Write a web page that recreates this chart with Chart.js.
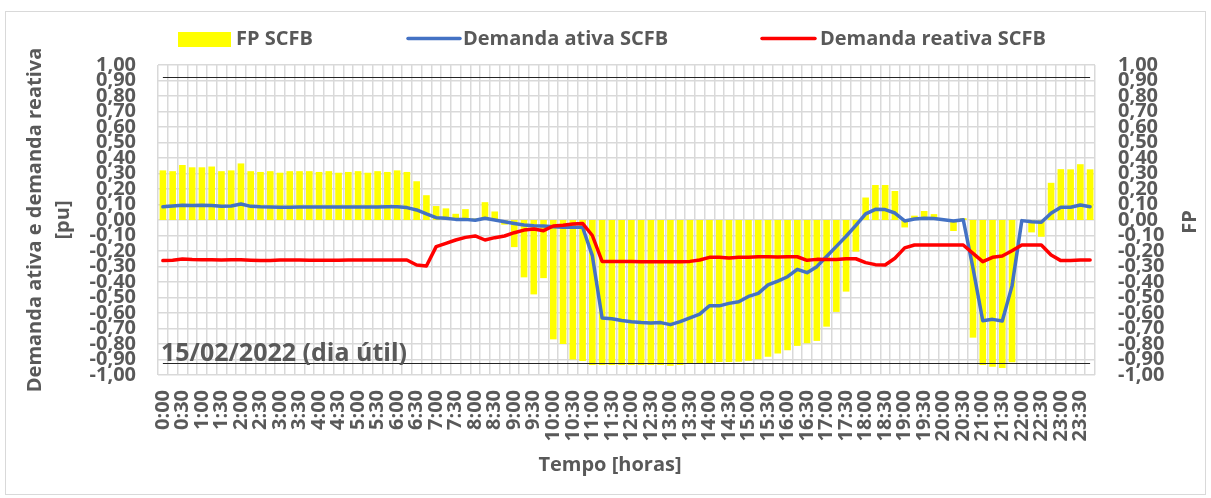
<!DOCTYPE html>
<html>
<head>
<meta charset="utf-8">
<script src="https://cdn.jsdelivr.net/npm/chart.js@4.4.1/dist/chart.umd.min.js"></script>
<style>
html,body{margin:0;padding:0;background:#ffffff;}
#wrap{width:1211px;height:498px;position:relative;}
</style>
</head>
<body>
<div id="wrap"><canvas id="c" width="1211" height="498"></canvas></div>
<script>
const categories = [
 "0:00","0:15","0:30","0:45","1:00","1:15","1:30","1:45","2:00","2:15","2:30","2:45",
 "3:00","3:15","3:30","3:45","4:00","4:15","4:30","4:45","5:00","5:15","5:30","5:45",
 "6:00","6:15","6:30","6:45","7:00","7:15","7:30","7:45","8:00","8:15","8:30","8:45",
 "9:00","9:15","9:30","9:45","10:00","10:15","10:30","10:45","11:00","11:15","11:30","11:45",
 "12:00","12:15","12:30","12:45","13:00","13:15","13:30","13:45","14:00","14:15","14:30","14:45",
 "15:00","15:15","15:30","15:45","16:00","16:15","16:30","16:45","17:00","17:15","17:30","17:45",
 "18:00","18:15","18:30","18:45","19:00","19:15","19:30","19:45","20:00","20:15","20:30","20:45",
 "21:00","21:15","21:30","21:45","22:00","22:15","22:30","22:45","23:00","23:15","23:30","23:45"
];

const fpSCFB = [
 0.32,0.315,0.355,0.34,0.34,0.345,0.315,0.32,0.365,0.315,
 0.31,0.315,0.305,0.315,0.315,0.315,0.31,0.315,0.305,0.31,
 0.315,0.305,0.315,0.31,0.32,0.31,0.25,0.16,0.09,0.075,
 0.04,0.07,0.01,0.115,0.055,-0.03,-0.175,-0.37,-0.48,-0.375,
 -0.77,-0.80,-0.90,-0.91,-0.935,-0.935,-0.935,-0.935,-0.935,-0.935,
 -0.935,-0.935,-0.94,-0.935,-0.927,-0.927,-0.922,-0.916,-0.916,-0.914,
 -0.908,-0.898,-0.882,-0.862,-0.84,-0.812,-0.795,-0.78,-0.688,-0.593,
 -0.462,-0.204,0.145,0.226,0.226,0.187,-0.048,0.028,0.058,0.038,
 0.0,-0.071,0.012,-0.759,-0.935,-0.946,-0.955,-0.918,0.0,-0.08,
 -0.108,0.24,0.328,0.327,0.36,0.327
];

const demandaAtiva = [
 0.085,0.09,0.095,0.093,0.095,0.093,0.088,0.09,0.103,0.088,
 0.085,0.084,0.083,0.083,0.084,0.084,0.084,0.084,0.084,0.084,
 0.084,0.084,0.084,0.085,0.086,0.08,0.065,0.039,0.015,0.011,
 0.004,0.004,-0.002,0.011,0.0,-0.011,-0.022,-0.032,-0.037,-0.039,
 -0.043,-0.047,-0.047,-0.047,-0.23,-0.632,-0.637,-0.648,-0.656,-0.662,
 -0.665,-0.662,-0.675,-0.656,-0.631,-0.607,-0.553,-0.554,-0.538,-0.527,
 -0.493,-0.473,-0.419,-0.394,-0.366,-0.318,-0.34,-0.301,-0.235,-0.17,
 -0.105,-0.035,0.04,0.069,0.067,0.045,-0.006,0.006,0.011,0.009,
 0.002,-0.006,0.002,-0.31,-0.65,-0.641,-0.652,-0.425,-0.004,-0.011,
 -0.015,0.043,0.082,0.082,0.097,0.086
];

const demandaReativa = [
 -0.262,-0.26,-0.252,-0.255,-0.256,-0.257,-0.258,-0.257,-0.256,-0.259,
 -0.262,-0.261,-0.258,-0.258,-0.258,-0.259,-0.26,-0.26,-0.259,-0.258,
 -0.258,-0.258,-0.258,-0.258,-0.258,-0.258,-0.29,-0.297,-0.172,-0.151,
 -0.129,-0.112,-0.103,-0.129,-0.114,-0.103,-0.082,-0.065,-0.058,-0.069,
 -0.039,-0.034,-0.026,-0.022,-0.1,-0.267,-0.267,-0.267,-0.268,-0.269,
 -0.269,-0.269,-0.269,-0.269,-0.267,-0.258,-0.241,-0.241,-0.245,-0.241,
 -0.241,-0.237,-0.237,-0.239,-0.237,-0.237,-0.26,-0.254,-0.255,-0.255,
 -0.25,-0.25,-0.275,-0.288,-0.29,-0.247,-0.18,-0.161,-0.161,-0.161,
 -0.161,-0.161,-0.161,-0.215,-0.269,-0.241,-0.232,-0.198,-0.161,-0.161,
 -0.161,-0.226,-0.262,-0.262,-0.258,-0.258
];

const yTickValues = [1,0.9,0.8,0.7,0.6,0.5,0.4,0.3,0.2,0.1,0,-0.1,-0.2,-0.3,-0.4,-0.5,-0.6,-0.7,-0.8,-0.9,-1];
const fpLimits = [0.92, -0.92];
const seriesLabels = ["FP SCFB", "Demanda ativa SCFB", "Demanda reativa SCFB"];
const leftAxisTitle = ["Demanda ativa e demanda reativa", "[pu]"];
const rightAxisTitle = "FP";
const xAxisTitle = "Tempo [horas]";
const annotationText = "15/02/2022 (dia útil)";

const TEXT = '#595959';
const GRID = '#d9d9d9';
const FONT = '"Open Sans", Lato, sans-serif';
const fmt = v => v.toFixed(2).replace('.', ',');

const decor = {
  id: 'decor',
  beforeDraw(chart) {
    const ctx = chart.ctx;
    ctx.save();
    ctx.fillStyle = '#ffffff';
    ctx.fillRect(0, 0, chart.width, chart.height);
    ctx.strokeStyle = '#d9d9d9';
    ctx.lineWidth = 1;
    ctx.strokeRect(5.5, 11.5, 1200, 483);
    ctx.restore();
  },
  afterDatasetsDraw(chart) {
    const ctx = chart.ctx;
    const y = chart.scales.y2;
    const meta = chart.getDatasetMeta(0);
    const x0 = meta.data[0].x, x1 = meta.data[meta.data.length - 1].x;
    ctx.save();
    ctx.strokeStyle = '#262626';
    ctx.lineWidth = 1;
    fpLimits.forEach(v => {
      const py = Math.round(y.getPixelForValue(v)) + 0.5;
      ctx.beginPath(); ctx.moveTo(x0, py); ctx.lineTo(x1, py); ctx.stroke();
    });
    ctx.restore();
  },
  afterDraw(chart) {
    const ctx = chart.ctx;
    const ds = chart.data.datasets;
    ctx.save();
    ctx.font = '700 20px ' + FONT;
    ctx.textBaseline = 'middle';
    ctx.textAlign = 'left';
    const ly = 39;
    ctx.fillStyle = ds[0].backgroundColor;
    ctx.fillRect(178, 32, 53, 15);
    ctx.fillStyle = TEXT;
    ctx.fillText(ds[0].label, 236, ly);
    [[1, 408, 460, 463], [2, 762, 815, 820]].forEach(([i, a, b, t]) => {
      ctx.strokeStyle = ds[i].borderColor;
      ctx.lineWidth = 3.5;
      ctx.lineCap = 'round';
      ctx.beginPath(); ctx.moveTo(a, 38.5); ctx.lineTo(b, 38.5); ctx.stroke();
      ctx.fillStyle = TEXT;
      ctx.fillText(ds[i].label, t, ly);
    });
    ctx.textAlign = 'center';
    ctx.fillText(xAxisTitle, 610, 465);
    ctx.save();
    ctx.translate(1190, 222);
    ctx.rotate(-Math.PI / 2);
    ctx.fillText(rightAxisTitle, 0, 0);
    ctx.restore();
    ctx.textAlign = 'left';
    ctx.textBaseline = 'alphabetic';
    ctx.font = '700 25px ' + FONT;
    ctx.fillText(annotationText, 161, 361);
    ctx.restore();
  }
};

const yTickOpts = {
  autoSkip: false,
  color: TEXT,
  font: { family: FONT, size: 20, weight: '700', lineHeight: 1 },
  callback: v => fmt(v)
};

new Chart(document.getElementById('c'), {
  data: {
    labels: categories,
    datasets: [
      { type: 'bar', label: seriesLabels[0], data: fpSCFB, yAxisID: 'y2',
        backgroundColor: '#FFFF00', borderWidth: 0, barPercentage: 0.68, categoryPercentage: 1, order: 3 },
      { type: 'line', label: seriesLabels[1], data: demandaAtiva, yAxisID: 'y',
        borderColor: '#4472C4', backgroundColor: '#4472C4', borderWidth: 3.5, pointRadius: 0,
        tension: 0, borderJoinStyle: 'round', borderCapStyle: 'round', order: 1 },
      { type: 'line', label: seriesLabels[2], data: demandaReativa, yAxisID: 'y',
        borderColor: '#FF0000', backgroundColor: '#FF0000', borderWidth: 3.5, pointRadius: 0,
        tension: 0, borderJoinStyle: 'round', borderCapStyle: 'round', order: 0 }
    ]
  },
  options: {
    responsive: false,
    animation: false,
    devicePixelRatio: 1,
    layout: { padding: { top: 65, left: 0, right: 0, bottom: 0 } },
    plugins: { legend: { display: false }, tooltip: { enabled: false }, title: { display: false } },
    scales: {
      x: {
        type: 'category',
        offset: true,
        grid: { display: true, offset: true, color: GRID, lineWidth: 1.5, drawTicks: false },
        border: { display: false },
        ticks: {
          autoSkip: false, minRotation: 90, maxRotation: 90, padding: 15,
          color: TEXT, font: { family: FONT, size: 20, weight: '700' },
          callback: function(value, index) { return index % 2 === 0 ? this.getLabelForValue(value) : ''; }
        },
        title: { display: false },
        afterFit: s => { s.height = 123; }
      },
      y: {
        position: 'left', min: -1, max: 1,
        grid: { display: true, color: GRID, lineWidth: 1.5, drawTicks: false },
        border: { display: false },
        ticks: Object.assign({ padding: 22 }, yTickOpts),
        afterBuildTicks: s => { s.ticks = yTickValues.map(v => ({ value: v })); },
        title: { display: true, text: leftAxisTitle, color: TEXT,
          font: { family: FONT, size: 20, weight: '700', lineHeight: 1.4 },
          padding: { top: 21, bottom: 0 } },
        afterFit: s => { s.width = 158; }
      },
      y2: {
        position: 'right', min: -1, max: 1,
        grid: { display: false, drawTicks: false },
        border: { display: false },
        ticks: Object.assign({ padding: 23 }, yTickOpts),
        afterBuildTicks: s => { s.ticks = yTickValues.map(v => ({ value: v })); },
        title: { display: false },
        afterFit: s => { s.width = 116; }
      }
    }
  },
  plugins: [decor]
});
</script>
</body>
</html>
